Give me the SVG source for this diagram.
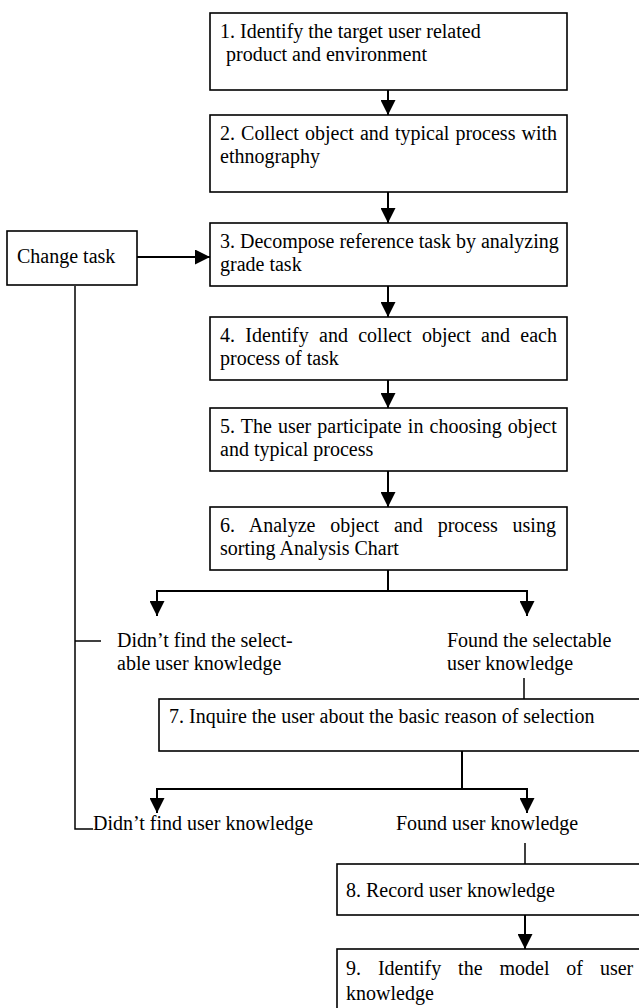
<svg xmlns="http://www.w3.org/2000/svg" width="639" height="1008" viewBox="0 0 639 1008">
<defs>
<style>
.box{fill:#fff;stroke:#000;stroke-width:1.6}
.t{font-family:"Liberation Serif","Times New Roman",serif;font-size:20px;fill:#000}
.c{fill:none;stroke:#000;stroke-width:2}
.thin{fill:none;stroke:#000;stroke-width:1.5}
</style>
<marker id="ah" markerUnits="userSpaceOnUse" markerWidth="15" markerHeight="15" viewBox="0 0 15 15" refX="15" refY="7.5" orient="auto">
<path d="M0,0 L15,7.5 L0,15 z" fill="#000"/>
</marker>
</defs>
<rect width="639" height="1008" fill="#fff"/>
<g id="connectors">
<line class="c" x1="388" y1="90" x2="388" y2="115" marker-end="url(#ah)"/>
<line class="c" x1="388" y1="192" x2="388" y2="223" marker-end="url(#ah)"/>
<line class="c" x1="388" y1="286" x2="388" y2="317" marker-end="url(#ah)"/>
<line class="c" x1="388" y1="380" x2="388" y2="408" marker-end="url(#ah)"/>
<line class="c" x1="388" y1="471" x2="388" y2="507" marker-end="url(#ah)"/>
<line class="c" x1="137" y1="257" x2="210" y2="257" marker-end="url(#ah)"/>
<line class="c" x1="388" y1="570" x2="388" y2="591"/>
<line class="c" x1="156" y1="591" x2="528" y2="591"/>
<line class="c" x1="157" y1="591" x2="157" y2="616" marker-end="url(#ah)"/>
<line class="c" x1="527" y1="591" x2="527" y2="616" marker-end="url(#ah)"/>
<line class="thin" x1="524" y1="678" x2="524" y2="699"/>
<line class="c" x1="462" y1="751" x2="462" y2="789"/>
<line class="c" x1="156" y1="789" x2="528" y2="789"/>
<line class="c" x1="157" y1="789" x2="157" y2="813" marker-end="url(#ah)"/>
<line class="c" x1="527" y1="789" x2="527" y2="813" marker-end="url(#ah)"/>
<line class="thin" x1="525" y1="843" x2="525" y2="864"/>
<line class="c" x1="525" y1="915" x2="525" y2="949" marker-end="url(#ah)"/>
<polyline class="thin" points="75,286 75,829 93,829"/>
<line class="thin" x1="75" y1="641" x2="101" y2="641"/>
</g>
<g id="n1"><rect class="box" x="210" y="13" width="357" height="77"/>
<text class="t" x="220" y="38">1. Identify the target user related</text>
<text class="t" x="226" y="61">product and environment</text></g>
<g id="n2"><rect class="box" x="210" y="115" width="357" height="77"/>
<text class="t" x="220" y="140" word-spacing="1.1">2. Collect object and typical process with</text>
<text class="t" x="220" y="163">ethnography</text></g>
<g id="nchange"><rect class="box" x="7" y="231" width="130" height="54"/>
<text class="t" x="17" y="263">Change task</text></g>
<g id="n3"><rect class="box" x="210" y="223" width="357" height="63"/>
<text class="t" x="220" y="248">3. Decompose reference task by analyzing</text>
<text class="t" x="220" y="271">grade task</text></g>
<g id="n4"><rect class="box" x="210" y="317" width="357" height="63"/>
<text class="t" x="220" y="342" word-spacing="5.35">4. Identify and collect object and each</text>
<text class="t" x="220" y="365">process of task</text></g>
<g id="n5"><rect class="box" x="210" y="408" width="357" height="63"/>
<text class="t" x="220" y="433" word-spacing="1.1">5. The user participate in choosing object</text>
<text class="t" x="220" y="456">and typical process</text></g>
<g id="n6"><rect class="box" x="210" y="507" width="357" height="63"/>
<text class="t" x="220" y="532" word-spacing="9.86">6. Analyze object and process using</text>
<text class="t" x="220" y="555">sorting Analysis Chart</text></g>
<g id="l1"><text class="t" x="117" y="647">Didn’t find the select-</text>
<text class="t" x="117" y="670">able user knowledge</text></g>
<g id="l2"><text class="t" x="447" y="647">Found the selectable</text>
<text class="t" x="447" y="670">user knowledge</text></g>
<g id="n7"><rect class="box" x="159" y="699" width="490" height="52"/>
<text class="t" x="169" y="723">7. Inquire the user about the basic reason of selection</text></g>
<g id="l3"><text class="t" x="93" y="830">Didn’t find user knowledge</text></g>
<g id="l4"><text class="t" x="396" y="830">Found user knowledge</text></g>
<g id="n8"><rect class="box" x="337" y="864" width="310" height="51"/>
<text class="t" x="346" y="897">8. Record user knowledge</text></g>
<g id="n9"><rect class="box" x="337" y="949" width="310" height="70"/>
<text class="t" x="346" y="975" word-spacing="11.9">9. Identify the model of user</text>
<text class="t" x="346" y="1000">knowledge</text></g>
</svg>
